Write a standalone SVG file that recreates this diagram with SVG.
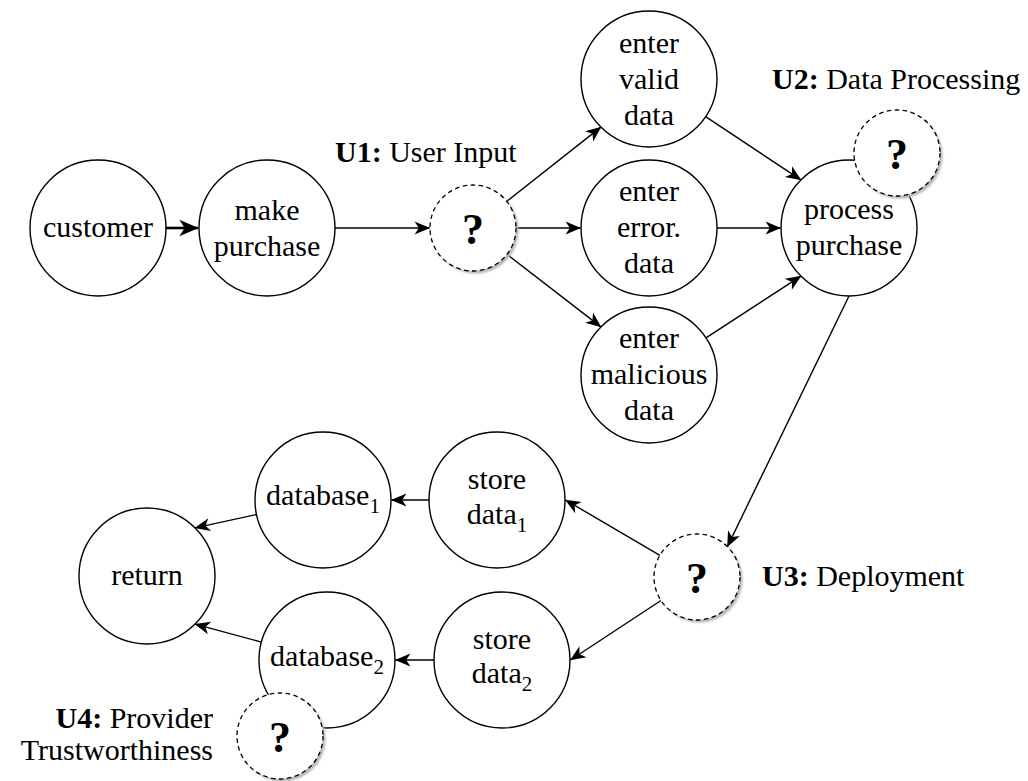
<svg xmlns="http://www.w3.org/2000/svg" width="1028" height="781" viewBox="0 0 1028 781" font-family="'Liberation Serif', 'DejaVu Serif', serif">
<defs>
<style>
.n{fill:#fff;stroke:#000;stroke-width:1.4}
.q{fill:#fff;stroke:#000;stroke-width:1.3;stroke-dasharray:4.5 3.5}
.sh{fill:#b4b4b4;filter:url(#blur)}
text{font-family:'Liberation Serif','DejaVu Serif',serif;font-size:30px;fill:#000}
.c{text-anchor:middle}
.qm{font-size:44px;font-weight:bold;text-anchor:middle}
.b{font-weight:bold}
.sub{font-size:21px}
.e{fill:none;stroke:#000;stroke-width:1.4;marker-end:url(#ah)}
.et{fill:none;stroke:#000;stroke-width:2.6;marker-end:url(#ahT)}
</style>
<filter id="blur" x="-20%" y="-20%" width="140%" height="140%"><feGaussianBlur stdDeviation="1.3"/></filter>
<marker id="ah" markerUnits="userSpaceOnUse" markerWidth="20" markerHeight="20" viewBox="-14 -7 16 14" refX="0" refY="0" orient="auto" overflow="visible">
<path d="M0.5,0 L-12,-5.2 L-8.5,0 L-12,5.2 Z" fill="#000"/>
</marker>
<marker id="ahT" markerUnits="userSpaceOnUse" markerWidth="24" markerHeight="24" viewBox="-16 -8 18 16" refX="0" refY="0" orient="auto" overflow="visible">
<path d="M0.5,0 L-14,-6.2 L-10,0 L-14,6.2 Z" fill="#000"/>
</marker>
</defs>
<rect width="1028" height="781" fill="#fff"/>

<g id="connectors">
<line class="et" x1="166" y1="228" x2="198" y2="228"/>
<line class="e" x1="335" y1="228" x2="429.5" y2="228"/>
<line class="e" x1="506.8" y1="201.4" x2="600.9" y2="127.1"/>
<line class="e" x1="516" y1="228" x2="580.5" y2="228"/>
<line class="e" x1="507" y1="254.3" x2="600.9" y2="326.9"/>
<line class="e" x1="705.6" y1="116.6" x2="800.9" y2="179.9"/>
<line class="e" x1="717" y1="228" x2="780.5" y2="228"/>
<line class="e" x1="706" y1="337.9" x2="800.9" y2="276.1"/>
<line class="e" x1="849" y1="296" x2="727.4" y2="546.6"/>
<line class="e" x1="659.9" y1="555.3" x2="565.5" y2="500"/>
<line class="e" x1="661" y1="600.5" x2="570.5" y2="660"/>
<line class="e" x1="429" y1="500" x2="391.5" y2="500"/>
<line class="e" x1="434" y1="660" x2="395.5" y2="660"/>
<line class="e" x1="256.6" y1="514.5" x2="195.1" y2="527.9"/>
<line class="e" x1="261.4" y1="642.1" x2="195.1" y2="624.1"/>
</g>

<g id="customer">
<circle class="n" cx="98" cy="228" r="68"/>
<text class="c" x="98" y="237">customer</text>
</g>
<g id="make-purchase">
<circle class="n" cx="267" cy="228" r="68"/>
<text class="c" x="267" y="220">make</text>
<text class="c" x="267" y="256">purchase</text>
</g>
<g id="u1">
<circle class="sh" cx="475.5" cy="230.5" r="43"/>
<circle class="q" cx="473" cy="228" r="43"/>
<text class="qm" x="473" y="244">?</text>
<text x="335" y="162"><tspan class="b">U1:</tspan> User Input</text>
</g>
<g id="enter-valid">
<circle class="n" cx="649" cy="79" r="68"/>
<text class="c" x="649" y="53">enter</text>
<text class="c" x="649" y="89">valid</text>
<text class="c" x="649" y="125">data</text>
</g>
<g id="enter-error">
<circle class="n" cx="649" cy="228" r="68"/>
<text class="c" x="649" y="201">enter</text>
<text class="c" x="649" y="237">error.</text>
<text class="c" x="649" y="273">data</text>
</g>
<g id="enter-malicious">
<circle class="n" cx="649" cy="375" r="68"/>
<text class="c" x="649" y="348">enter</text>
<text class="c" x="649" y="384">malicious</text>
<text class="c" x="649" y="420">data</text>
</g>
<g id="process-purchase">
<circle class="n" cx="849" cy="228" r="68"/>
<text class="c" x="849" y="219">process</text>
<text class="c" x="849" y="255">purchase</text>
</g>
<g id="u2">
<circle class="sh" cx="899.5" cy="155.5" r="43"/>
<circle class="q" cx="897" cy="153" r="43"/>
<text class="qm" x="897" y="169">?</text>
<text x="772" y="89"><tspan class="b">U2:</tspan> Data Processing</text>
</g>
<g id="u3">
<circle class="sh" cx="699.5" cy="579.5" r="43"/>
<circle class="q" cx="697" cy="577" r="43"/>
<text class="qm" x="697" y="593">?</text>
<text x="762" y="586"><tspan class="b">U3:</tspan> Deployment</text>
</g>
<g id="store-data-1">
<circle class="n" cx="497" cy="500" r="68"/>
<text class="c" x="497" y="489">store</text>
<text class="c" x="497" y="524">data<tspan class="sub" dy="8">1</tspan></text>
</g>
<g id="database-1">
<circle class="n" cx="323" cy="500" r="68"/>
<text class="c" x="323" y="505">database<tspan class="sub" dy="8">1</tspan></text>
</g>
<g id="return">
<circle class="n" cx="147" cy="576" r="68"/>
<text class="c" x="147" y="585">return</text>
</g>
<g id="store-data-2">
<circle class="n" cx="502" cy="660" r="68"/>
<text class="c" x="502" y="649">store</text>
<text class="c" x="502" y="683">data<tspan class="sub" dy="8">2</tspan></text>
</g>
<g id="database-2">
<circle class="n" cx="327" cy="660" r="68"/>
<text class="c" x="327" y="666">database<tspan class="sub" dy="8">2</tspan></text>
</g>
<g id="u4">
<circle class="sh" cx="282.5" cy="738.5" r="43"/>
<circle class="q" cx="280" cy="736" r="43"/>
<text class="qm" x="280" y="752">?</text>
<text x="213" y="728" text-anchor="end"><tspan class="b">U4:</tspan> Provider</text>
<text x="213" y="760" text-anchor="end">Trustworthiness</text>
</g>
</svg>
